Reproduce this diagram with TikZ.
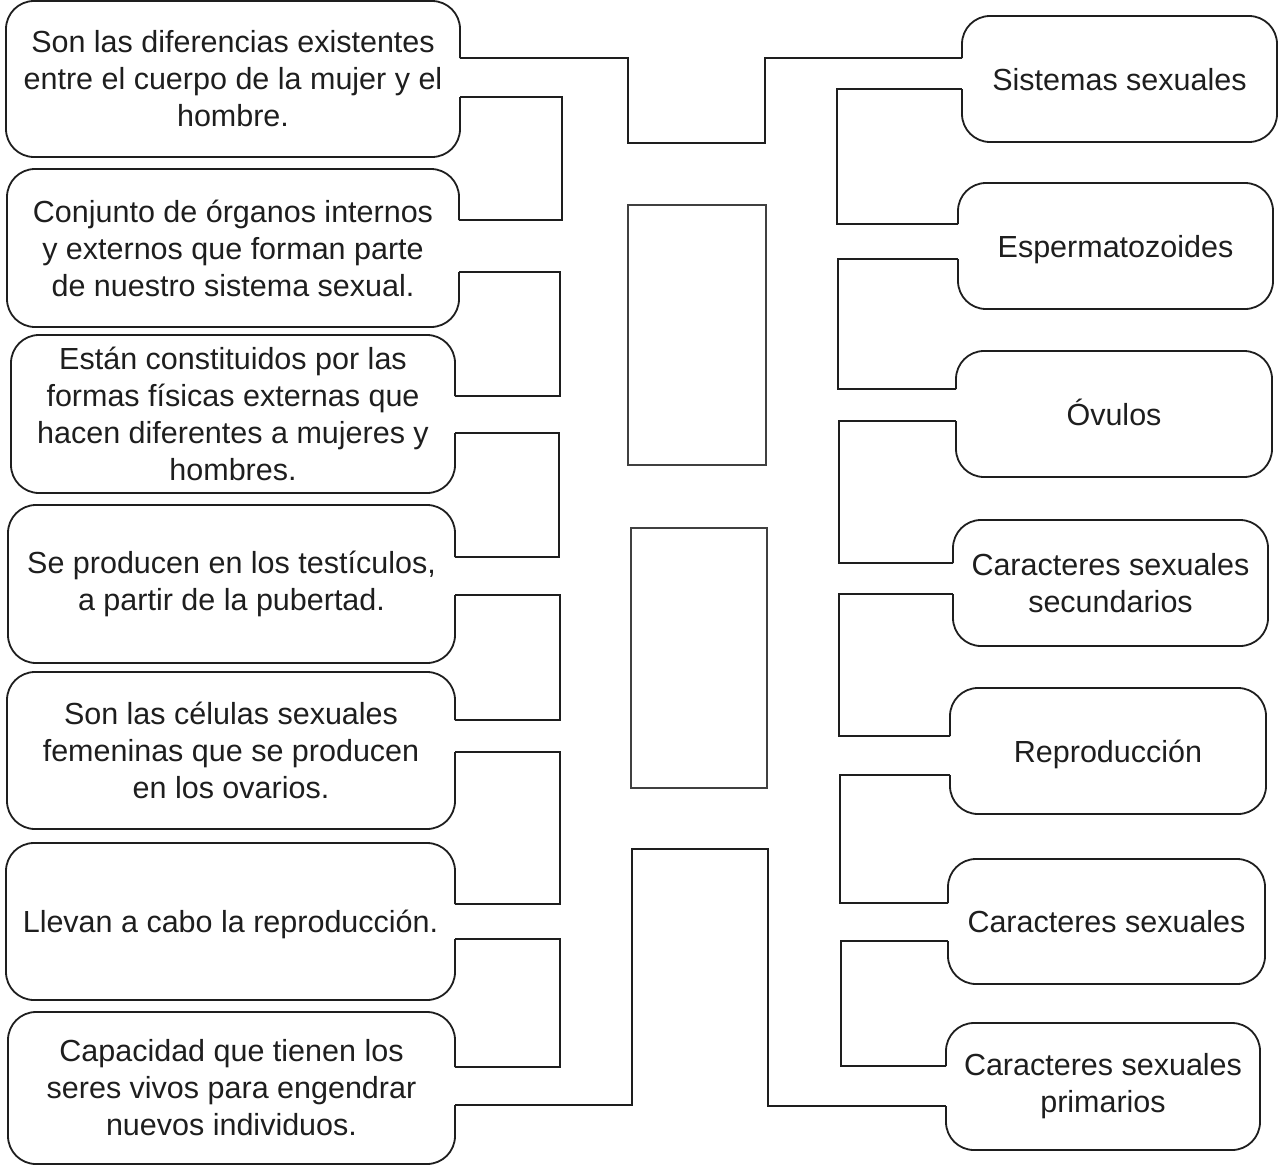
\documentclass[tikz,border=0pt]{standalone}
\usepackage{fontspec}
\setmainfont{Liberation Sans}
\usetikzlibrary{positioning}
\definecolor{ink}{HTML}{1E1E1E}
\tikzset{
  card/.style={inner sep=0pt, outer sep=0pt, align=center, text=ink, font=\fontsize{30.5}{37}\selectfont},
  oneline/.style={text height=22pt, text depth=0pt},
  rim/.style={draw=ink, line width=1.8pt, rounded corners=28pt},
  wire/.style={draw=ink, line width=1.3pt},
  slot/.style={draw=ink!85, line width=1.1pt, inner sep=0pt, outer sep=0pt}
}

\begin{document}
\begin{tikzpicture}[x=1pt,y=-1pt]
  \useasboundingbox (0,0) rectangle (1282,1167);

  % definitions on the left
  \node[card, minimum width=454, minimum height=156] (diferencias) at (233,79) {Son las diferencias existentes\\entre el cuerpo de la mujer y el\\hombre.};
  \node[card, minimum width=452, minimum height=158] (conjunto) at (233,248) {Conjunto de órganos internos\\y externos que forman parte\\de nuestro sistema sexual.};
  \node[card, minimum width=444, minimum height=158] (formas) at (233,414) {Están constituidos por las\\formas físicas externas que\\hacen diferentes a mujeres y\\hombres.};
  \node[card, minimum width=447, minimum height=158] (testiculos) at (231.5,584) {Se producen en los testículos,\\a partir de la pubertad.};
  \node[card, minimum width=448, minimum height=157] (celulas) at (231,750.5) {Son las células sexuales\\femeninas que se producen\\en los ovarios.};
  \node[card, oneline, minimum width=449, minimum height=157] (llevan) at (230.5,921.5) {Llevan a cabo la reproducción.};
  \node[card, minimum width=447, minimum height=152] (capacidad) at (231.5,1088) {Capacidad que tienen los\\seres vivos para engendrar\\nuevos individuos.};

  % terms on the right
  \node[card, oneline, minimum width=315, minimum height=126] (sistemas) at (1119.5,79) {Sistemas sexuales};
  \node[card, oneline, minimum width=315, minimum height=126] (esperma) at (1115.5,246) {Espermatozoides};
  \node[card, oneline, minimum width=316, minimum height=126] (ovulos) at (1114,414) {Óvulos};
  \node[card, minimum width=315, minimum height=126] (secund) at (1110.5,583) {Caracteres sexuales\\secundarios};
  \node[card, oneline, minimum width=316, minimum height=126] (reprod) at (1108,751) {Reproducción};
  \node[card, oneline, minimum width=317, minimum height=125] (caract) at (1106.5,921.5) {Caracteres sexuales};
  \node[card, minimum width=314, minimum height=127] (primar) at (1103,1086.5) {Caracteres sexuales\\primarios};

  % empty boxes in the middle
  \node[slot, minimum width=138, minimum height=260] (slotA) at (697,335) {};
  \node[slot, minimum width=136, minimum height=260] (slotB) at (699,658) {};

  % open outlines, left
  \draw[rim] (diferencias.east |- 0,58) -- (diferencias.north east) -- (diferencias.north west) -- (diferencias.south west) -- (diferencias.south east) -- (diferencias.east |- 0,97);
  \draw[rim] (conjunto.east |- 0,220) -- (conjunto.north east) -- (conjunto.north west) -- (conjunto.south west) -- (conjunto.south east) -- (conjunto.east |- 0,272);
  \draw[rim] (formas.east |- 0,396) -- (formas.north east) -- (formas.north west) -- (formas.south west) -- (formas.south east) -- (formas.east |- 0,433);
  \draw[rim] (testiculos.east |- 0,557) -- (testiculos.north east) -- (testiculos.north west) -- (testiculos.south west) -- (testiculos.south east) -- (testiculos.east |- 0,595);
  \draw[rim] (celulas.east |- 0,720) -- (celulas.north east) -- (celulas.north west) -- (celulas.south west) -- (celulas.south east) -- (celulas.east |- 0,752);
  \draw[rim] (llevan.east |- 0,904) -- (llevan.north east) -- (llevan.north west) -- (llevan.south west) -- (llevan.south east) -- (llevan.east |- 0,939);
  \draw[rim] (capacidad.east |- 0,1067) -- (capacidad.north east) -- (capacidad.north west) -- (capacidad.south west) -- (capacidad.south east) -- (capacidad.east |- 0,1105);

  % open outlines, right
  \draw[rim] (sistemas.west |- 0,89) -- (sistemas.south west) -- (sistemas.south east) -- (sistemas.north east) -- (sistemas.north west) -- (sistemas.west |- 0,58);
  \draw[rim] (esperma.west |- 0,259) -- (esperma.south west) -- (esperma.south east) -- (esperma.north east) -- (esperma.north west) -- (esperma.west |- 0,224);
  \draw[rim] (ovulos.west |- 0,421) -- (ovulos.south west) -- (ovulos.south east) -- (ovulos.north east) -- (ovulos.north west) -- (ovulos.west |- 0,389);
  \draw[rim] (secund.west |- 0,594) -- (secund.south west) -- (secund.south east) -- (secund.north east) -- (secund.north west) -- (secund.west |- 0,563);
  \draw[rim] (reprod.west |- 0,775) -- (reprod.south west) -- (reprod.south east) -- (reprod.north east) -- (reprod.north west) -- (reprod.west |- 0,736);
  \draw[rim] (caract.west |- 0,941) -- (caract.south west) -- (caract.south east) -- (caract.north east) -- (caract.north west) -- (caract.west |- 0,903);
  \draw[rim] (primar.west |- 0,1106) -- (primar.south west) -- (primar.south east) -- (primar.north east) -- (primar.north west) -- (primar.west |- 0,1066);

  % brackets between neighbours
  \draw[wire] (diferencias.east |- 0,97) -| (562,220) -- (conjunto.east |- 0,220);
  \draw[wire] (conjunto.east |- 0,272) -| (560,396) -- (formas.east |- 0,396);
  \draw[wire] (formas.east |- 0,433) -| (559,557) -- (testiculos.east |- 0,557);
  \draw[wire] (testiculos.east |- 0,595) -| (560,720) -- (celulas.east |- 0,720);
  \draw[wire] (celulas.east |- 0,752) -| (560,904) -- (llevan.east |- 0,904);
  \draw[wire] (llevan.east |- 0,939) -| (560,1067) -- (capacidad.east |- 0,1067);

  \draw[wire] (sistemas.west |- 0,89) -| (837,224) -- (esperma.west |- 0,224);
  \draw[wire] (esperma.west |- 0,259) -| (838,389) -- (ovulos.west |- 0,389);
  \draw[wire] (ovulos.west |- 0,421) -| (839,563) -- (secund.west |- 0,563);
  \draw[wire] (secund.west |- 0,594) -| (839,736) -- (reprod.west |- 0,736);
  \draw[wire] (reprod.west |- 0,775) -| (840,903) -- (caract.west |- 0,903);
  \draw[wire] (caract.west |- 0,941) -| (841,1066) -- (primar.west |- 0,1066);

  % the two crossings
  \draw[wire] (diferencias.east |- 0,58) -| (628,143) -| (765,58) -- (sistemas.west |- 0,58);
  \draw[wire] (capacidad.east |- 0,1105) -| (632,849) -| (768,1106) -- (primar.west |- 0,1106);
\end{tikzpicture}
\end{document}
